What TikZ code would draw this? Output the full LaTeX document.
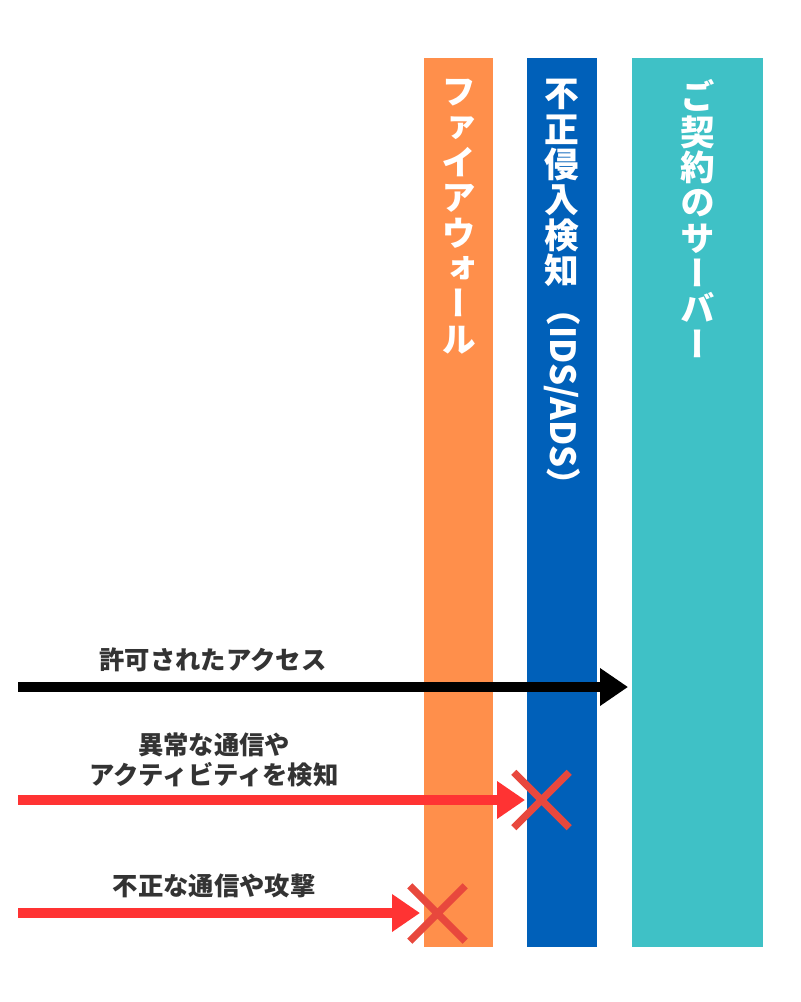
\documentclass[tikz,border=0pt]{standalone}
\usepackage{fontspec}
\setmainfont{Noto Sans CJK JP}
\newfontfamily\vjp[RawFeature=+vert]{Noto Sans CJK JP}
\usetikzlibrary{arrows.meta,positioning,shapes.misc}
\definecolor{fwOrange}{HTML}{FF8F4B}
\definecolor{idsBlue}{HTML}{0060B9}
\definecolor{srvTeal}{HTML}{3FC1C6}
\definecolor{arrRed}{HTML}{FF3333}
\definecolor{xRed}{HTML}{E8483D}
\definecolor{txtGray}{HTML}{333333}

\begin{document}
\begin{tikzpicture}[x=0.75pt,y=-0.75pt,
    bar/.style={anchor=north west,inner sep=0pt,outer sep=0pt,minimum height=666.75pt},
    vtext/.style={anchor=north,inner sep=0pt,align=center,text=white,
        font=\vjp\bfseries\fontsize{26}{26.5}\selectfont},
    lbl/.style={align=center,text=txtGray,font=\bfseries\fontsize{19}{23}\selectfont},
    flow/.style={line width=7pt,-{Triangle[length=21pt,width=27pt]}},
    xmark/.style={cross out,draw=xRed,line width=5.5pt,minimum size=36pt,inner sep=0pt}
]
    \useasboundingbox (0,0) rectangle (800,1002);
    % the three layers
    \node[bar,fill=fwOrange,minimum width=51.75pt] (fw) at (424,58) {};
    \node[bar,fill=idsBlue,minimum width=52.5pt] (ids) at (527,58) {};
    \node[bar,fill=srvTeal,minimum width=98.25pt] (srv) at (632,58) {};
    \node[vtext] (fwT) at ([yshift=-16pt]fw.north) {フ\\ァ\\イ\\ア\\ウ\\ォ\\ー\\ル};
    \node[vtext] (idsT) at ([yshift=-16pt]ids.north) {不\\正\\侵\\入\\検\\知};
    \node[vtext,font=\bfseries\fontsize{26}{26.5}\selectfont,rotate=-90,anchor=west]
        (idsL) at ([yshift=-3pt]idsT.south) {（IDS/ADS）};
    \node[vtext] (srvT) at ([yshift=-16pt]srv.north) {ご\\契\\約\\の\\サ\\ー\\バ\\ー};
    % traffic
    \coordinate (okS) at (18,687);
    \coordinate (ngS1) at (18,800);
    \coordinate (ngS2) at (18,913);
    \draw[flow,black,shorten >=3pt] (okS) -- (okS -| srv.west);
    \draw[flow,arrRed,shorten >=1.5pt] (ngS1) -- (ngS1 -| ids.west);
    \draw[flow,arrRed,shorten >=3pt] (ngS2) -- (ngS2 -| fw.west);
    \node[xmark] (x1) at (541.5,800) {};
    \node[xmark] (x2) at (437.5,913.5) {};
    \node[lbl] (okL) at (213,660) {許可されたアクセス};
    \node[lbl] (ngL1) at (214,760) {異常な通信や\\アクティビティを検知};
    \node[lbl] (ngL2) at (214,886) {不正な通信や攻撃};
\end{tikzpicture}
\end{document}
